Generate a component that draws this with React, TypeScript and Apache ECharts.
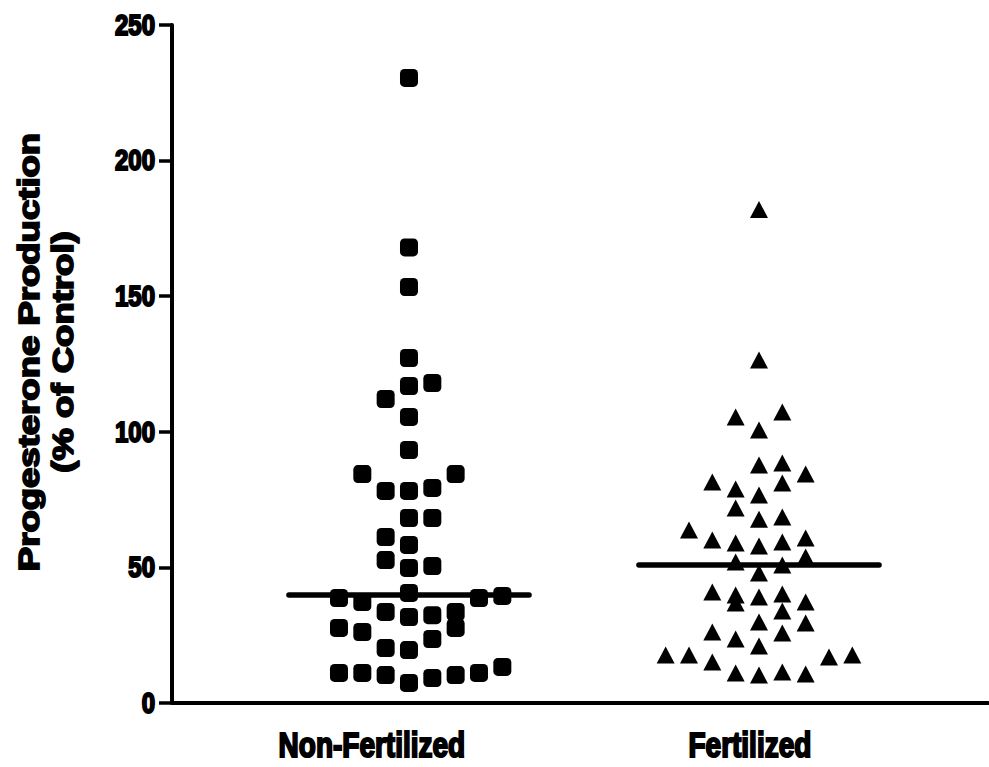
import React, { useEffect, useRef } from "react";
import * as echarts from "echarts";

// Groups shown along the x axis
const categories = ["Non-Fertilized", "Fertilized"];

// Progesterone production (% of control), one value per sample
const nonFertilizedValues = [
  230.5, 168, 153.4, 127.2, 116.9, 118, 112.1, 105.5, 93.3, 84.4, 84.4,
  78.2, 78.2, 79.3, 68.2, 68.2, 61.2, 58.3, 52.7, 49.8, 50.5, 38.7, 37.2,
  40.6, 38.7, 39.5, 33.6, 31.7, 32.4, 33.6, 27.7, 27.7, 26.2, 20.3, 19.5,
  23.6, 11.1, 11.1, 10.3, 7.4, 9.2, 10.3, 11.1, 13.3,
];
// Swarm slot of each sample (left/right of the group centre)
const nonFertilizedSlots = [
  0, 0, 0, 0, 0, 1, -1, 0, 0, -2, 2, -1, 0, 1, 0, 1, -1, 0, -1, 0, 1, -3, -2,
  0, 3, 4, -1, 0, 1, 2, 2, -3, -2, -1, 0, 1, -3, -2, -1, 0, 1, 2, 3, 4,
];

const fertilizedValues = [
  182, 126.5, 105.5, 107.3, 100.7, 87.8, 88.5, 84.4, 81.5, 78.9, 76.7, 81.1,
  71.9, 67.8, 68.6, 63.8, 60.1, 59, 57.9, 59.4, 60.8, 52, 53.8, 50.9, 47.9,
  40.9, 39.8, 39.1, 40.2, 37.2, 36.9, 33.9, 29.9, 29.5, 26.2, 23.6, 21, 25.8,
  17.7, 17.7, 15.1, 17, 17.7, 11.1, 10.3, 11.4, 10.7,
];
const fertilizedSlots = [
  0, 0, -1, 1, 0, 0, 1, 2, -2, -1, 0, 1, -1, 0, 1, -3, -2, -1, 0, 1, 2, -1, 2,
  1, 0, -2, -1, 0, 1, 2, -1, 1, 0, 2, -2, -1, 0, 1, -4, -3, -2, 3, 4, -1, 0, 1,
  2,
];

// Median of each group
const medians = [39.8, 50.9];

// Y axis ticks
const yTicks = [0, 50, 100, 150, 200, 250];

// Axis title, one entry per line
const yTitleLines = ["Progesterone Production", "(% of Control)"];

const SLOT_WIDTH = 1 / 15; // spacing between swarm columns, in x units
const MEDIAN_HALF = 0.343; // half length of the median bar, in x units
const LABEL_SHIFT = [-0.106, -0.026]; // category label offset from group centre

const FONT_FAMILY = "'Liberation Sans', Arial, Helvetica, sans-serif";
const TEXT_STRETCH = 1.26; // glyphs are drawn taller than they are wide

function swarm(values: number[], slots: number[], centre: number) {
  return values.map((v, i) => [centre + slots[i] * SLOT_WIDTH, v]);
}

function heavyText(text: string, size: number) {
  return {
    text,
    fill: "#000",
    font: `bold ${size}px ${FONT_FAMILY}`,
    stroke: "#000",
    lineWidth: 1.7,
    align: "center",
    verticalAlign: "middle",
  };
}

export default function App() {
  const ref = useRef<HTMLDivElement>(null);

  useEffect(() => {
    if (!ref.current) return;
    const chart = echarts.init(ref.current, null, { renderer: "svg" });
    const centres = [1, 2];

    chart.setOption({
      animation: false,
      backgroundColor: "#ffffff",
      grid: { left: 172, right: 1, top: 25, bottom: 64, containLabel: false },
      xAxis: {
        type: "value",
        min: 0.3229,
        max: 2.6543,
        splitLine: { show: false },
        axisLine: { show: true, onZero: false, lineStyle: { color: "#000", width: 4 } },
        axisTick: { show: false },
        axisLabel: { show: false },
      },
      yAxis: {
        type: "value",
        min: yTicks[0],
        max: yTicks[yTicks.length - 1],
        interval: 50,
        splitLine: { show: false },
        axisLine: { show: true, lineStyle: { color: "#000", width: 4 } },
        axisTick: { show: true, length: 13, lineStyle: { color: "#000", width: 3.5 } },
        axisLabel: { show: false },
      },
      series: [
        {
          type: "scatter",
          name: categories[0],
          symbol: "roundRect",
          symbolSize: 18,
          itemStyle: { color: "#000", opacity: 1 },
          data: swarm(nonFertilizedValues, nonFertilizedSlots, centres[0]),
          z: 3,
        },
        {
          type: "scatter",
          name: categories[1],
          symbol: "triangle",
          symbolSize: [18, 17],
          itemStyle: { color: "#000", opacity: 1 },
          data: swarm(fertilizedValues, fertilizedSlots, centres[1]),
          z: 3,
        },
        ...medians.map((m, i) => ({
          type: "line",
          name: categories[i] + " median",
          symbol: "none",
          lineStyle: { color: "#000", width: 5.5, cap: "round" },
          data: [
            [centres[i] - MEDIAN_HALF, m],
            [centres[i] + MEDIAN_HALF, m],
          ],
          z: 4,
        })),
      ],
    });

    // Axis texts, placed from the axes' own scales
    const toPx = (x: number, y: number) =>
      chart.convertToPixel({ gridIndex: 0 }, [x, y]) as number[];
    const origin = toPx(0.3229, 0);
    const top = toPx(0.3229, yTicks[yTicks.length - 1]);

    const tickTexts = yTicks.map((t) => {
      const p = toPx(0.3229, t);
      return {
        type: "text",
        x: p[0] - 17,
        y: p[1],
        scaleY: TEXT_STRETCH * 0.95,
        style: { ...heavyText(String(t), 24), align: "right" },
      };
    });

    const categoryTexts = categories.map((c, i) => {
      const p = toPx(centres[i] + LABEL_SHIFT[i], 0);
      return {
        type: "text",
        x: p[0],
        y: p[1] + 42,
        scaleY: TEXT_STRETCH,
        style: heavyText(c, 28),
      };
    });

    const midY = (origin[1] + top[1]) / 2 - 12;
    const titleTexts = yTitleLines.map((line, i) => ({
      type: "text",
      x: origin[0] - 143 + i * 34,
      y: midY,
      rotation: Math.PI / 2,
      scaleX: TEXT_STRETCH,
      style: heavyText(line, 29),
    }));

    chart.setOption({
      graphic: { elements: [...tickTexts, ...categoryTexts, ...titleTexts] },
    });

    return () => chart.dispose();
  }, []);

  return (
    <div
      ref={ref}
      style={{ position: "fixed", left: 0, top: 0, width: 989, height: 767 }}
    />
  );
}
